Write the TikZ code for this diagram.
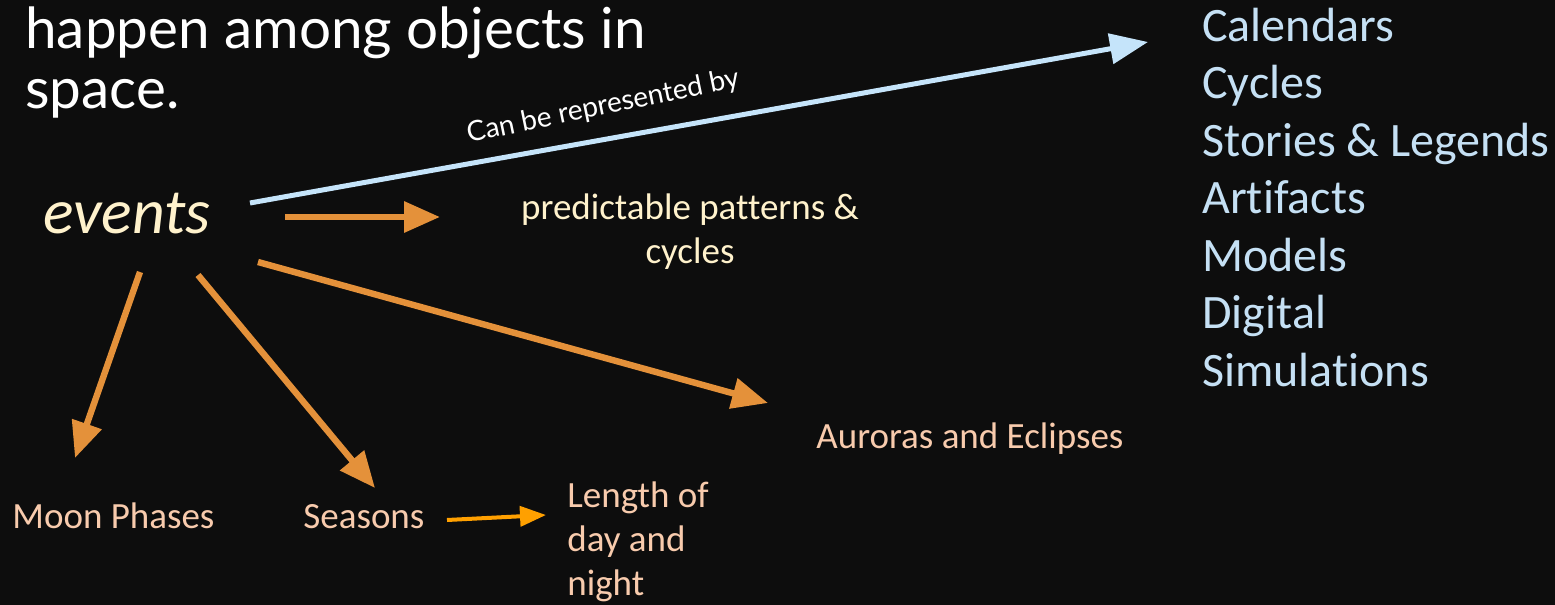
\documentclass[tikz,border=0pt]{standalone}
\usepackage{fontspec}
\setmainfont{Carlito}[Ligatures=NoCommon]
\newfontfamily\headfont{Lato}[Ligatures=NoCommon]
\usetikzlibrary{arrows.meta}

\definecolor{bgdark}{HTML}{0D0D0D}
\definecolor{cream}{HTML}{FFF2CC}
\definecolor{itemorange}{HTML}{F8CBAD}
\definecolor{arroworange}{HTML}{E4913A}
\definecolor{brightorange}{HTML}{FFA000}
\definecolor{arrowblue}{HTML}{C5E4FA}
\definecolor{repblue}{HTML}{C5E0F4}

\begin{document}
\begin{tikzpicture}[x=0.5pt,y=-0.5pt]
    \tikzstyle{heading}=[text=white,inner sep=0pt,font=\headfont\fontsize{28.3}{30}\selectfont]
    \tikzstyle{item}=[text=itemorange,inner sep=0pt,align=left,font=\fontsize{18.5}{22}\selectfont]
    \tikzstyle{rep}=[text=repblue,inner sep=0pt,anchor=base west,font=\fontsize{24}{28}\selectfont]
    \tikzstyle{flow}=[draw=arroworange,line width=3.2pt,-{Triangle[length=18pt,width=15pt]}]
    \tikzstyle{link}=[draw=arrowblue,line width=2.5pt,-{Triangle[length=19pt,width=15pt]}]

    \fill[bgdark] (0,0) rectangle (1555,605);

    % heading
    \node[heading,anchor=base west] (line1) at (25,48) {happen among objects in};
    \node[heading,anchor=base west] (line2) at (25,108) {space.};

    % centre word and its branches
    \node[inner sep=0pt,anchor=base west,text=cream,font=\itshape\fontsize{31.9}{36}\selectfont] (events) at (43,233) {events};
    \node[item,text=cream,align=center,anchor=north] (pred) at (690,193) {predictable patterns \&\\ cycles};
    \node[item,anchor=base west] (aurora) at (816,448) {Auroras and Eclipses};
    \node[item,anchor=base west] (moon) at (12,528) {Moon Phases};
    \node[item,anchor=base west] (seasons) at (303,528) {Seasons};
    \node[item,anchor=north west] (daylen) at (567,481) {Length of\\ day and\\ night};

    % ways to represent them
    \foreach \t [count=\i] in {Calendars,Cycles,Stories \& Legends,Artifacts,Models,Digital,Simulations}
        \node[rep] (rep\i) at (1202,41+57.5*\i-57.5) {\t};

    \draw[link] ([shift={(207,-30)}]events.base west) --
        node[pos=0.4,sloped,above,yshift=8.5pt,rotate=1.5,inner sep=0pt,text=white,font=\headfont\fontsize{14}{16}\selectfont] (replabel) {Can be represented by}
        ([shift={(-54,1)}]rep1.base west);
    \draw[flow] ([shift={(242,-16)}]events.base west) -- ([shift={(-250,24)}]pred.north);
    \draw[flow] ([shift={(215,29)}]events.base west) -- ([shift={(-48,-45)}]aurora.base west);
    \draw[flow] ([shift={(97,39)}]events.base west) -- ([shift={(63,-70)}]moon.base west);
    \draw[flow] ([shift={(155,42)}]events.base west) -- ([shift={(72,-40)}]seasons.base west);
    \draw[draw=brightorange,line width=2pt,-{Triangle[length=13pt,width=10pt]}]
        ([shift={(144,-8)}]seasons.base west) -- ([shift={(-21,34)}]daylen.north west);
\end{tikzpicture}
\end{document}
